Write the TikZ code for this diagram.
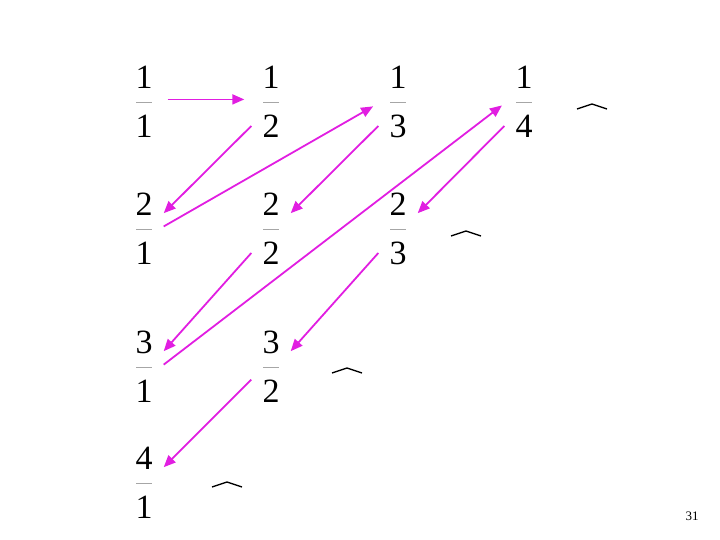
\documentclass[tikz,border=0pt]{standalone}
\usepackage{fontspec}
\setmainfont{Liberation Serif}
\usetikzlibrary{arrows.meta}
\definecolor{walkpink}{RGB}{225,30,225}

\begin{document}
\begin{tikzpicture}[x=1bp, y=-1bp,
    digit/.style={inner sep=11bp, font=\fontsize{34bp}{40bp}\selectfont},
    bar/.style={draw=gray!70, line width=0.8bp},
    hat/.style={line width=1.3bp, line join=miter},
    walk/.style={draw=walkpink, line width=1.8bp, -{Triangle[length=12bp,width=10bp]}}]
\useasboundingbox (0,0) rectangle (720,540);

% row 1 ---
\node[digit] (n11) at (144,77) {1};
\node[digit] (d11) at (144,126) {1};
\draw[bar] (136,102) -- (152,102);
\node[digit] (n12) at (271,77) {1};
\node[digit] (d12) at (271,126) {2};
\draw[bar] (263,102) -- (279,102);
\node[digit] (n13) at (398,77) {1};
\node[digit] (d13) at (398,126) {3};
\draw[bar] (390,102) -- (406,102);
\node[digit] (n14) at (524,77) {1};
\node[digit] (d14) at (524,126) {4};
\draw[bar] (516,102) -- (532,102);

% row 2 ---
\node[digit] (n21) at (144,204) {2};
\node[digit] (d21) at (144,253) {1};
\draw[bar] (136,229) -- (152,229);
\node[digit] (n22) at (271,204) {2};
\node[digit] (d22) at (271,253) {2};
\draw[bar] (263,229) -- (279,229);
\node[digit] (n23) at (398,204) {2};
\node[digit] (d23) at (398,253) {3};
\draw[bar] (390,229) -- (406,229);

% row 3 ---
\node[digit] (n31) at (144,342) {3};
\node[digit] (d31) at (144,391) {1};
\draw[bar] (136,367) -- (152,367);
\node[digit] (n32) at (271,342) {3};
\node[digit] (d32) at (271,391) {2};
\draw[bar] (263,367) -- (279,367);

% row 4 ---
\node[digit] (n41) at (144,458) {4};
\node[digit] (d41) at (144,507) {1};
\draw[bar] (136,483) -- (152,483);

% hats
\draw[hat] (577,109) -- (592,104) -- (607,109);
\draw[hat] (451,236) -- (466,231) -- (481,236);
\draw[hat] (332,373) -- (347,368) -- (362,373);
\draw[hat] (212,487) -- (227,482) -- (242,487);

% the walk
\draw[walk, shorten <=4bp, shorten >=7bp] (n11.south east) -- (n12.south west);
\draw[walk] (d12.west) -- (n21.-25);
\draw[walk, shorten >=6bp] (n21.south east) -- (d13.north west);
\draw[walk] (d13.west) -- (n22.-25);
\draw[walk] (d22.west) -- (n31.-25);
\draw[walk, shorten >=3bp] (n31.south east) -- (d14.north west);
\draw[walk] (d14.west) -- (n23.-25);
\draw[walk] (d23.west) -- (n32.-25);
\draw[walk] (d32.150) -- (n41.-25);

\node[font=\fontsize{13bp}{15bp}\selectfont] (pagenum) at (692,516) {31};

\end{tikzpicture}
\end{document}
